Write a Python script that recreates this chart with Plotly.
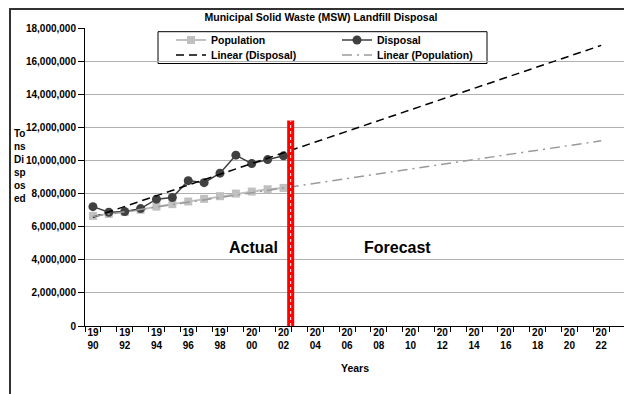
import plotly.graph_objects as go

# ---------------- data ----------------
years = list(range(1990, 2003))
disposal = [7.21e6, 6.87e6, 6.91e6, 7.09e6, 7.66e6, 7.76e6, 8.78e6,
            8.66e6, 9.23e6, 10.32e6, 9.81e6, 10.05e6, 10.28e6]
population = [6.65e6, 6.77e6, 6.88e6, 7.02e6, 7.21e6, 7.36e6, 7.52e6,
              7.68e6, 7.84e6, 8.00e6, 8.12e6, 8.26e6, 8.34e6]
trend_years = [1990, 2022]
trend_disposal = [6.57e6, 16.95e6]
trend_population = [6.62e6, 11.19e6]
tick_years = list(range(1990, 2023, 2))
tick_labels = [str(y)[:2] + "<br>" + str(y)[2:] for y in tick_years]
cutoff_year = 2002.45
cutoff_top = 12.41e6

FONT = "Liberation Sans, Arial, sans-serif"
OFF = 8                      # page body margin of the browser
W, H = 632 - OFF, 394 - OFF
L, R, T, B = 77, 7, 20, 68
PW, PH = W - L - R, H - T - B


def px(x):                   # screen x -> paper
    return (x - OFF - L) / PW


def py(y):                   # screen y -> paper
    return (H - B - (y - OFF)) / PH


fig = go.Figure()
fig.add_trace(go.Scatter(
    x=years, y=population, name="Population", mode="lines+markers",
    line=dict(color="#c0c0c0", width=2),
    marker=dict(symbol="square", size=8, color="#c0c0c0"),
    legend="legend"))
fig.add_trace(go.Scatter(
    x=years, y=disposal, name="Disposal", mode="lines+markers",
    line=dict(color="#404040", width=1.5),
    marker=dict(symbol="circle", size=9, color="#404040"),
    legend="legend2"))
fig.add_trace(go.Scatter(
    x=trend_years, y=trend_disposal, name="Linear (Disposal)", mode="lines",
    line=dict(color="black", width=1.5, dash="8px,5px"),
    legend="legend3"))
fig.add_trace(go.Scatter(
    x=trend_years, y=trend_population, name="Linear (Population)", mode="lines",
    line=dict(color="#9a9a9a", width=1.5, dash="10px,5px,2px,5px"),
    legend="legend4"))

bold = dict(family=FONT, size=10.5, color="black", weight="bold")
leg = dict(xanchor="left", yanchor="middle", bgcolor="rgba(0,0,0,0)",
           borderwidth=0, font=bold)

fig.update_layout(
    width=W, height=H,
    margin=dict(l=L, r=R, t=T, b=B),
    paper_bgcolor="white", plot_bgcolor="white",
    font=dict(family=FONT, color="black"),
    title=dict(text="<b>Municipal Solid Waste (MSW) Landfill Disposal</b>",
               x=(321 - OFF) / W, xref="container", xanchor="center",
               y=1 - (17 - OFF) / H, yref="container", yanchor="middle",
               font=dict(family=FONT, size=10.5, color="black")),
    legend=dict(x=px(171), y=py(40), **leg),
    legend2=dict(x=px(337), y=py(40), **leg),
    legend3=dict(x=px(171), y=py(55), **leg),
    legend4=dict(x=px(337), y=py(55), **leg),
    showlegend=True,
)

fig.update_xaxes(
    range=[1989.5, 2023.5], showgrid=False, zeroline=False, automargin=False,
    showline=True, linecolor="black", linewidth=1,
    tickmode="array", tickvals=tick_years, ticktext=tick_labels, ticks="",
    ticklabelstandoff=-3,
    tickfont=dict(family=FONT, size=10, color="black", weight="bold"),
    minor=dict(tickmode="linear", tick0=1989.5, dtick=1, ticks="outside",
               ticklen=5, tickcolor="black", showgrid=False),
    title=dict(text="<b>Years</b>", font=dict(family=FONT, size=10.5), standoff=14),
)
fig.update_yaxes(
    range=[0, 18e6], dtick=2e6, tickformat=",", showgrid=True, automargin=False,
    gridcolor="#b0b0b0", gridwidth=1, zeroline=False,
    showline=True, linecolor="black", linewidth=1,
    ticks="outside", ticklen=6, tickcolor="black",
    tickfont=dict(family=FONT, size=10, color="black", weight="bold"),
)

# legend frame
fig.add_shape(type="rect", xref="paper", yref="paper",
              x0=px(158), x1=px(487), y0=py(63.5), y1=py(31.7),
              fillcolor="white", line=dict(color="black", width=1), layer="between")
# outer chart border
fig.add_shape(type="rect", xref="paper", yref="paper",
              x0=px(10), x1=px(660), y0=py(420), y1=py(9),
              line=dict(color="#333333", width=2), layer="above")
# cut-off marker between actual and forecast
fig.add_shape(type="line", xref="x", yref="y",
              x0=cutoff_year, x1=cutoff_year, y0=0, y1=cutoff_top,
              line=dict(color="#ff0000", width=7), layer="above")
fig.add_shape(type="line", xref="x", yref="y",
              x0=cutoff_year, x1=cutoff_year, y0=0, y1=cutoff_top,
              line=dict(color="white", width=1, dash="dot"), layer="above")

fig.add_annotation(text="<b>Actual</b>", x=2000.1, y=4.72e6, xref="x", yref="y",
                   showarrow=False, font=dict(family=FONT, size=16, color="black"))
fig.add_annotation(text="<b>Forecast</b>", x=2009.2, y=4.72e6, xref="x", yref="y",
                   showarrow=False, font=dict(family=FONT, size=16, color="black"))
fig.add_annotation(text="<b>To<br>ns<br>Di<br>sp<br>os<br>ed</b>",
                   x=px(12), y=py(166), xref="paper", yref="paper",
                   xanchor="left", yanchor="middle", align="left", showarrow=False,
                   font=dict(family=FONT, size=10, color="black"))

fig.write_html("out.html")
